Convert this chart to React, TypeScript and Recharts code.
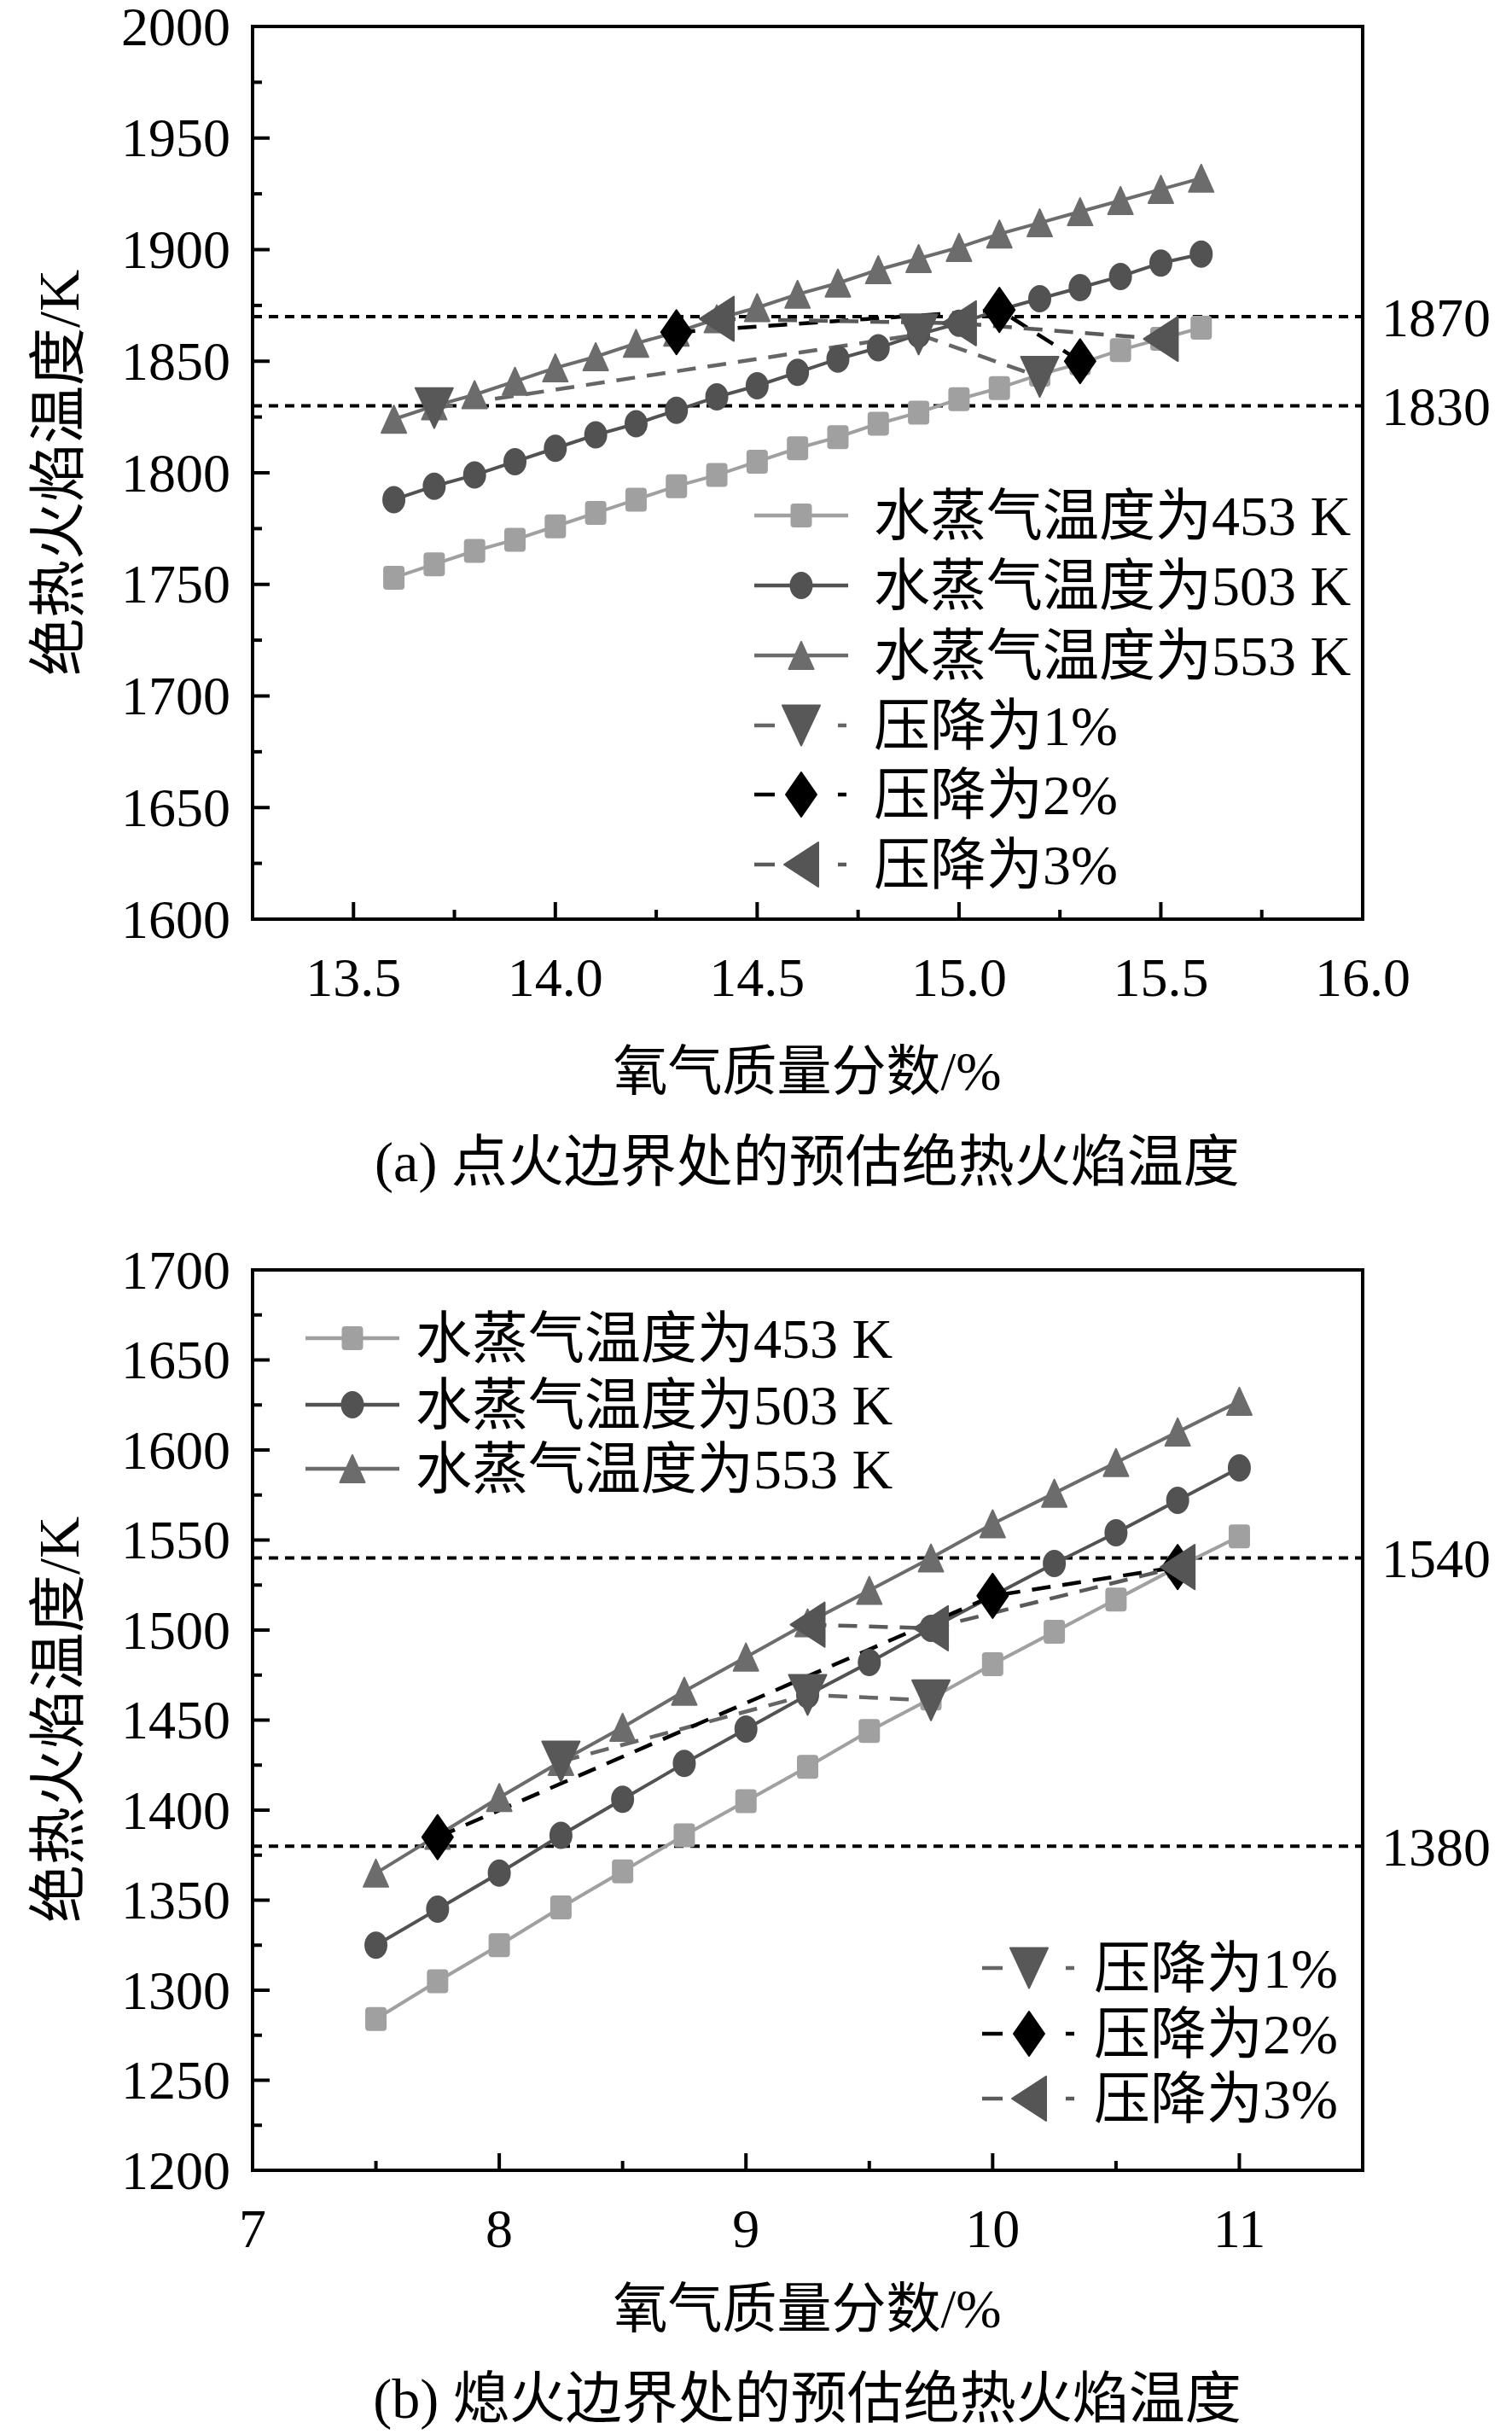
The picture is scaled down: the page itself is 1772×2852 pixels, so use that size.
import React from 'react'
import { LineChart, Line, XAxis, YAxis, ReferenceLine, ReferenceArea } from 'recharts'

const FONT = "'Liberation Serif', 'Noto Sans CJK SC', serif"

const tempNames = ['水蒸气温度为453 K', '水蒸气温度为503 K', '水蒸气温度为553 K']
const dropNames = ['压降为1%', '压降为2%', '压降为3%']
const yTitle = '绝热火焰温度/K'
const xTitle = '氧气质量分数/%'

// (a) 点火边界
const xA = [13.6, 13.7, 13.8, 13.9, 14.0, 14.1, 14.2, 14.3, 14.4, 14.5, 14.6, 14.7, 14.8, 14.9, 15.0, 15.1, 15.2, 15.3, 15.4, 15.5, 15.6]
const t453A = [1753, 1759, 1765, 1770, 1776, 1782, 1788, 1794, 1799, 1805, 1811, 1816, 1822, 1827, 1833, 1838, 1844, 1849, 1855, 1860, 1865]
const t503A = [1788, 1794, 1799, 1805, 1811, 1817, 1822, 1828, 1834, 1839, 1845, 1851, 1856, 1862, 1867, 1873, 1878, 1883, 1888, 1894, 1898]
const t553A = [1824, 1830, 1835, 1841, 1847, 1852, 1858, 1863, 1869, 1874, 1880, 1885, 1891, 1896, 1901, 1907, 1912, 1917, 1922, 1927, 1932]
const drop1xA = [13.7, 14.9, 15.2]
const drop1yA = [1829, 1862, 1843]
const drop2xA = [14.3, 15.1, 15.3]
const drop2yA = [1863, 1873, 1850]
const drop3xA = [14.4, 15.0, 15.5]
const drop3yA = [1869, 1867, 1860]
const limitsA = [1870, 1830]
const xMajorA = [13.5, 14.0, 14.5, 15.0, 15.5, 16.0]
const xMinorA = [13.75, 14.25, 14.75, 15.25, 15.75]
const yMajorA = [1600, 1650, 1700, 1750, 1800, 1850, 1900, 1950, 2000]
const yMinorA = [1625, 1675, 1725, 1775, 1825, 1875, 1925, 1975]
const captionA = '(a) 点火边界处的预估绝热火焰温度'

// (b) 熄火边界
const xB = [7.5, 7.75, 8, 8.25, 8.5, 8.75, 9, 9.25, 9.5, 9.75, 10, 10.25, 10.5, 10.75, 11]
const t453B = [1284, 1305, 1325, 1346, 1366, 1386, 1405, 1424, 1444, 1462, 1481, 1499, 1517, 1535, 1552]
const t503B = [1325, 1345, 1365, 1386, 1406, 1426, 1445, 1464, 1482, 1501, 1519, 1537, 1554, 1572, 1590]
const t553B = [1365, 1386, 1407, 1427, 1446, 1466, 1485, 1504, 1522, 1540, 1559, 1576, 1593, 1610, 1627]
const drop1xB = [8.25, 9.25, 9.75]
const drop1yB = [1427, 1464, 1461]
const drop2xB = [7.75, 10, 10.75]
const drop2yB = [1385, 1519, 1535]
const drop3xB = [9.25, 9.75, 10.75]
const drop3yB = [1503, 1501, 1535]
const limitsB = [1540, 1380]
const xMajorB = [7, 8, 9, 10, 11]
const xMinorB = [7.5, 8.5, 9.5, 10.5, 11.5]
const yMajorB = [1200, 1250, 1300, 1350, 1400, 1450, 1500, 1550, 1600, 1650, 1700]
const yMinorB = [1225, 1275, 1325, 1375, 1425, 1475, 1525, 1575, 1625, 1675]
const captionB = '(b) 熄火边界处的预估绝热火焰温度'

type Pt = { x: number; y: number }
const zip = (xs: number[], ys: number[]): Pt[] => xs.map((x, i) => ({ x, y: ys[i] }))

type Kind = 'square' | 'circle' | 'up' | 'down' | 'diamond' | 'left'
interface MarkStyle {
  kind: Kind
  color: string
  line: string
  w: number
  h: number
}

const TEMP_STYLE: MarkStyle[] = [
  { kind: 'square', color: '#a0a0a0', line: '#a0a0a0', w: 23, h: 26 },
  { kind: 'circle', color: '#525252', line: '#525252', w: 25, h: 30 },
  { kind: 'up', color: '#6c6c6c', line: '#6c6c6c', w: 29, h: 32 },
]
const DROP_STYLE: MarkStyle[] = [
  { kind: 'down', color: '#585858', line: '#666666', w: 44, h: 47 },
  { kind: 'diamond', color: '#000000', line: '#000000', w: 36, h: 52 },
  { kind: 'left', color: '#555555', line: '#5a5a5a', w: 40, h: 52 },
]

function Mark({ s, cx, cy }: { s: MarkStyle; cx: number; cy: number }) {
  const { kind, color, w, h } = s
  const hw = w / 2
  const hh = h / 2
  const common = { fill: color, stroke: color, strokeWidth: 2, strokeLinejoin: 'round' as const }
  if (kind === 'square') return <rect x={cx - hw} y={cy - hh} width={w} height={h} rx={3} {...common} />
  if (kind === 'circle') return <ellipse cx={cx} cy={cy} rx={hw} ry={hh} {...common} />
  let pts = ''
  if (kind === 'up') pts = `${cx},${cy - hh} ${cx + hw},${cy + hh} ${cx - hw},${cy + hh}`
  if (kind === 'down') pts = `${cx - hw},${cy - hh} ${cx + hw},${cy - hh} ${cx},${cy + hh}`
  if (kind === 'diamond') pts = `${cx},${cy - hh} ${cx + hw},${cy} ${cx},${cy + hh} ${cx - hw},${cy}`
  if (kind === 'left') pts = `${cx - hw},${cy} ${cx + hw},${cy - hh} ${cx + hw},${cy + hh}`
  return <polygon points={pts} {...common} />
}

const dotFor = (s: MarkStyle, tag: string) => (p: any) => {
  if (p.cx == null || p.cy == null) return <g key={`${tag}-${p.index}`} />
  return (
    <g key={`${tag}-${p.index}`}>
      <Mark s={s} cx={p.cx} cy={p.cy} />
    </g>
  )
}

const near = (list: number[], v: number) => list.some((m) => Math.abs(m - v) < 1e-6)

const makeXTick = (majors: number[], fmt: (v: number) => string) => (props: any) => {
  const { x, y, payload } = props
  const v = payload.value as number
  const major = near(majors, v)
  return (
    <g>
      <line x1={x} x2={x} y1={y} y2={y - (major ? 20 : 11)} stroke="#000" strokeWidth={4} />
      {major && (
        <text x={x} y={y + 68} textAnchor="middle" dominantBaseline="central" fontSize={64} fontFamily={FONT} fill="#000">
          {fmt(v)}
        </text>
      )}
    </g>
  )
}

const makeYTick = (majors: number[]) => (props: any) => {
  const { x, y, payload } = props
  const v = payload.value as number
  const major = near(majors, v)
  return (
    <g>
      <line x1={x} x2={x + (major ? 20 : 11)} y1={y} y2={y} stroke="#000" strokeWidth={4} />
      {major && (
        <text x={x - 26} y={y} textAnchor="end" dominantBaseline="central" fontSize={64} fontFamily={FONT} fill="#000">
          {v}
        </text>
      )}
    </g>
  )
}

interface LegendBlock {
  x0: number
  tx: number
  ys: number[]
  names: string[]
  styles: MarkStyle[]
  dashed: boolean
}

function LegendRows({ block }: { block: LegendBlock }) {
  const { x0, tx, ys, names, styles, dashed } = block
  const len = 110
  return (
    <g>
      {names.map((name, i) => {
        const s = styles[i]
        const y = ys[i]
        const cx = x0 + len / 2
        return (
          <g key={name}>
            {dashed ? (
              <>
                <line x1={x0} x2={x0 + 24} y1={y} y2={y} stroke={s.line} strokeWidth={4.5} />
                <line x1={x0 + 98} x2={x0 + 108} y1={y} y2={y} stroke={s.line} strokeWidth={4.5} />
              </>
            ) : (
              <line x1={x0} x2={x0 + len} y1={y} y2={y} stroke={s.line} strokeWidth={4.5} />
            )}
            <Mark s={s} cx={cx} cy={y} />
            <text x={tx} y={y} dominantBaseline="central" fontSize={66} fontFamily={FONT} fill="#000">
              {name}
            </text>
          </g>
        )
      })}
    </g>
  )
}

interface PanelProps {
  height: number
  margin: { top: number; right: number; bottom: number; left: number }
  xDomain: [number, number]
  yDomain: [number, number]
  xMajor: number[]
  xMinor: number[]
  yMajor: number[]
  yMinor: number[]
  fmtX: (v: number) => string
  temps: Pt[][]
  drops: Pt[][]
  limits: number[]
  legends: LegendBlock[]
  yTitlePos: [number, number]
  xTitlePos: [number, number]
  caption: string
  captionPos: [number, number]
}

function Panel(p: PanelProps) {
  const W = 1772
  return (
    <div style={{ position: 'relative', width: W, height: p.height }}>
      <LineChart width={W} height={p.height} margin={p.margin}>
        <ReferenceArea
          x1={p.xDomain[0]}
          x2={p.xDomain[1]}
          y1={p.yDomain[0]}
          y2={p.yDomain[1]}
          fill="none"
          fillOpacity={0}
          stroke="#000"
          strokeWidth={4}
        />
        <XAxis
          dataKey="x"
          type="number"
          domain={p.xDomain}
          allowDataOverflow
          ticks={[...p.xMajor, ...p.xMinor]}
          interval={0}
          height={1}
          tickSize={0}
          tickMargin={0}
          tickLine={false}
          axisLine={{ stroke: '#000', strokeWidth: 4 }}
          tick={makeXTick(p.xMajor, p.fmtX)}
        />
        <YAxis
          dataKey="y"
          type="number"
          domain={p.yDomain}
          allowDataOverflow
          ticks={[...p.yMajor, ...p.yMinor]}
          interval={0}
          width={1}
          tickSize={0}
          tickMargin={0}
          tickLine={false}
          axisLine={{ stroke: '#000', strokeWidth: 4 }}
          tick={makeYTick(p.yMajor)}
        />
        {p.limits.map((v) => (
          <ReferenceLine
            key={v}
            y={v}
            stroke="#000"
            strokeWidth={4}
            strokeDasharray="11 8"
            label={{ value: String(v), position: 'right', offset: 22, fill: '#000', fontSize: 64, fontFamily: FONT }}
          />
        ))}
        {p.temps.map((d, i) => (
          <Line
            key={tempNames[i]}
            data={d}
            dataKey="y"
            name={tempNames[i]}
            type="linear"
            stroke={TEMP_STYLE[i].line}
            strokeWidth={4}
            dot={dotFor(TEMP_STYLE[i], `t${i}`)}
            activeDot={false}
            isAnimationActive={false}
          />
        ))}
        {p.drops.map((d, i) => (
          <Line
            key={dropNames[i]}
            data={d}
            dataKey="y"
            name={dropNames[i]}
            type="linear"
            stroke={DROP_STYLE[i].line}
            strokeWidth={4.5}
            strokeDasharray="22 14"
            dot={dotFor(DROP_STYLE[i], `d${i}`)}
            activeDot={false}
            isAnimationActive={false}
          />
        ))}
      </LineChart>
      <svg
        width={W}
        height={p.height}
        style={{ position: 'absolute', left: 0, top: 0, pointerEvents: 'none' }}
      >
        {p.legends.map((b, i) => (
          <LegendRows key={i} block={b} />
        ))}
        <text
          x={p.yTitlePos[0]}
          y={p.yTitlePos[1]}
          transform={`rotate(-90 ${p.yTitlePos[0]} ${p.yTitlePos[1]})`}
          textAnchor="middle"
          dominantBaseline="central"
          fontSize={68}
          fontFamily={FONT}
          fill="#000"
        >
          {yTitle}
        </text>
        <text
          x={p.xTitlePos[0]}
          y={p.xTitlePos[1]}
          textAnchor="middle"
          dominantBaseline="central"
          fontSize={64}
          fontFamily={FONT}
          fill="#000"
        >
          {xTitle}
        </text>
        <text
          x={p.captionPos[0]}
          y={p.captionPos[1]}
          textAnchor="middle"
          dominantBaseline="central"
          fontSize={66}
          fontFamily={FONT}
          fill="#000"
        >
          {p.caption}
        </text>
      </svg>
    </div>
  )
}

export default function App() {
  return (
    <div style={{ width: 1772, height: 2852, background: '#fff' }}>
      <style>{'body{margin:0;background:#fff}'}</style>
      <Panel
        height={1440}
        margin={{ top: 31, right: 175, bottom: 362, left: 295 }}
        xDomain={[13.25, 16]}
        yDomain={[1600, 2000]}
        xMajor={xMajorA}
        xMinor={xMinorA}
        yMajor={yMajorA}
        yMinor={yMinorA}
        fmtX={(v) => v.toFixed(1)}
        temps={[zip(xA, t453A), zip(xA, t503A), zip(xA, t553A)]}
        drops={[zip(drop1xA, drop1yA), zip(drop2xA, drop2yA), zip(drop3xA, drop3yA)]}
        limits={limitsA}
        legends={[
          { x0: 884, tx: 1024, ys: [604, 686, 768], names: tempNames, styles: TEMP_STYLE, dashed: false },
          { x0: 884, tx: 1024, ys: [850, 931, 1013], names: dropNames, styles: DROP_STYLE, dashed: true },
        ]}
        yTitlePos={[69, 554]}
        xTitlePos={[946, 1255]}
        caption={captionA}
        captionPos={[946, 1361]}
      />
      <Panel
        height={1412}
        margin={{ top: 48, right: 175, bottom: 308, left: 295 }}
        xDomain={[7, 11.5]}
        yDomain={[1200, 1700]}
        xMajor={xMajorB}
        xMinor={xMinorB}
        yMajor={yMajorB}
        yMinor={yMinorB}
        fmtX={(v) => String(v)}
        temps={[zip(xB, t453B), zip(xB, t503B), zip(xB, t553B)]}
        drops={[zip(drop1xB, drop1yB), zip(drop2xB, drop2yB), zip(drop3xB, drop3yB)]}
        limits={limitsB}
        legends={[
          { x0: 358, tx: 487, ys: [128, 206, 281], names: tempNames, styles: TEMP_STYLE, dashed: false },
          { x0: 1151, tx: 1282, ys: [866, 943, 1019], names: dropNames, styles: DROP_STYLE, dashed: true },
        ]}
        yTitlePos={[69, 575]}
        xTitlePos={[946, 1265]}
        caption={captionB}
        captionPos={[946, 1370]}
      />
    </div>
  )
}
